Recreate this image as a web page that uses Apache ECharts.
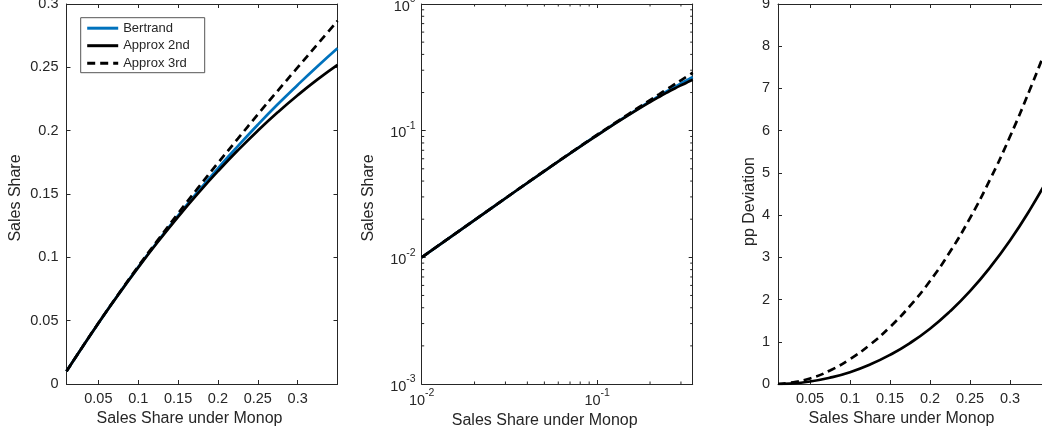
<!DOCTYPE html>
<html>
<head>
<meta charset="utf-8">
<script src="https://cdn.jsdelivr.net/npm/echarts@6/dist/echarts.min.js"></script>
<style>
  html, body { margin: 0; background: #fff; }
  #chart { width: 1042px; height: 440px; }
</style>
</head>
<body>
<div id="chart"></div>
<script>
// sales share under monopoly (x for every panel)
const monopShare = [0.01, 0.025, 0.05, 0.075, 0.1, 0.125, 0.15, 0.175, 0.2, 0.225, 0.25, 0.275, 0.3, 0.325, 0.35]
// sales share, panel 1 and 2
const bertrand = [0.0100, 0.0245, 0.0480, 0.0706, 0.0923, 0.1130, 0.1329, 0.1520, 0.1703, 0.1878, 0.2047, 0.2208, 0.2361, 0.2509, 0.2651]
const approx2nd = [0.0100, 0.0245, 0.0480, 0.0705, 0.0920, 0.1125, 0.1320, 0.1505, 0.1680, 0.1845, 0.2000, 0.2145, 0.2280, 0.2405, 0.2520]
const approx3rd = [0.0100, 0.0245, 0.0481, 0.0708, 0.0929, 0.1140, 0.1347, 0.1548, 0.1745, 0.1937, 0.2128, 0.2315, 0.2499, 0.2683, 0.2866]
// pp deviation from Bertrand, panel 3
const dev2nd = [0, 0.01, 0.06, 0.15, 0.28, 0.46, 0.69, 0.97, 1.31, 1.72, 2.20, 2.76, 3.40, 4.13, 4.95]
const dev3rd = [0, 0.03, 0.13, 0.32, 0.59, 0.93, 1.35, 1.85, 2.44, 3.13, 3.93, 4.84, 5.86, 6.98, 8.18]

const linXTicks = [0.05, 0.1, 0.15, 0.2, 0.25, 0.3]
const logMinorX = [0.02, 0.03, 0.04, 0.05, 0.06, 0.07, 0.08, 0.09, 0.2, 0.3]
const logMinorY = [0.002, 0.003, 0.004, 0.005, 0.006, 0.007, 0.008, 0.009,
  0.02, 0.03, 0.04, 0.05, 0.06, 0.07, 0.08, 0.09,
  0.2, 0.3, 0.4, 0.5, 0.6, 0.7, 0.8, 0.9]

const ink = '#262626'
const blue = '#0072bd'
const font = 'Liberation Sans, Arial, sans-serif'

const pairs = (ys) => monopShare.map((x, i) => [x, ys[i]])

const chart = echarts.init(document.getElementById('chart'))

const lineStyle = { color: ink, width: 1 }
const nameStyle = { color: ink, fontSize: 16, fontFamily: font }

function xAxis(grid, extra, mirror) {
  return Object.assign({
    gridIndex: grid,
    position: mirror ? 'top' : 'bottom',
    axisLine: { show: true, onZero: false, lineStyle },
    axisTick: { show: true, inside: true, length: 4, lineStyle },
    axisLabel: mirror ? { show: false } : { color: ink, fontSize: 14.5, fontFamily: font, margin: 7 },
    splitLine: { show: false },
    name: mirror ? '' : 'Sales Share under Monop',
    nameLocation: 'middle',
    nameGap: 26,
    nameTextStyle: Object.assign({ padding: [0, 25, 0, 0] }, nameStyle),
  }, extra)
}

function yAxis(grid, extra, mirror, name, gap, shift) {
  return Object.assign({
    gridIndex: grid,
    position: mirror ? 'right' : 'left',
    axisLine: { show: true, onZero: false, lineStyle },
    axisTick: { show: true, inside: true, length: 4, lineStyle },
    axisLabel: mirror ? { show: false } : { color: ink, fontSize: 14.5, fontFamily: font, margin: 8 },
    splitLine: { show: false },
    name: mirror ? '' : name,
    nameLocation: 'middle',
    nameGap: gap,
    nameTextStyle: Object.assign({ padding: [0, shift, 0, 0] }, nameStyle),
  }, extra)
}

const linX = (grid, mirror) => xAxis(grid, {
  type: 'value', min: 0.01, max: 0.35,
  axisTick: { show: true, inside: true, length: 4, lineStyle, customValues: linXTicks },
  axisLabel: mirror ? { show: false } : {
    color: ink, fontSize: 14.5, fontFamily: font, margin: 7,
    customValues: linXTicks, formatter: (v) => String(+v.toFixed(2)),
  },
}, mirror)

const logRich = {
  b: { fontSize: 14.5, color: ink, fontFamily: font, verticalAlign: 'bottom', lineHeight: 20 },
  s: { fontSize: 10.5, color: ink, fontFamily: font, verticalAlign: 'top', lineHeight: 11 },
}
const logFmt = (v) => '{b|10}{s|' + Math.round(Math.log10(v)) + '}'

const logX = (mirror) => xAxis(1, {
  type: 'log', logBase: 10, min: 0.01, max: 0.35,
  axisLabel: mirror ? { show: false } : {
    margin: 4, formatter: logFmt, rich: logRich, showMaxLabel: false,
  },
}, mirror)

const logY = (mirror) => yAxis(1, {
  type: 'log', logBase: 10, min: 0.001, max: 1,
  axisLabel: mirror ? { show: false } : {
    margin: 6, formatter: logFmt, rich: logRich,
  },
}, mirror, 'Sales Share', 45, 8)

// minor ticks of the log panel, on all four sides
function minorTicks(values, onX) {
  return {
    type: 'custom',
    xAxisIndex: 2,
    yAxisIndex: 2,
    silent: true,
    z: 5,
    data: values.map((v) => (onX ? [v, 0.1] : [0.1, v])),
    renderItem: (params, api) => {
      const v = api.value(onX ? 0 : 1)
      const a = onX ? api.coord([v, 0.001]) : api.coord([0.01, v])
      const b = onX ? api.coord([v, 1]) : api.coord([0.35, v])
      const len = 2.5
      const seg = (p, dx, dy) => ({
        type: 'line',
        shape: { x1: p[0], y1: p[1], x2: p[0] + dx, y2: p[1] + dy },
        style: { stroke: ink, lineWidth: 1 },
      })
      return {
        type: 'group',
        children: onX
          ? [seg(a, 0, -len), seg(b, 0, len)]
          : [seg(a, len, 0), seg(b, -len, 0)],
      }
    },
  }
}

const solid = (color) => ({ color, width: 2.7 })
const dashed = { color: '#000', width: 2.7, type: [8, 5] }

const option = {
  animation: false,
  backgroundColor: '#fff',
  textStyle: { fontFamily: font },
  grid: [
    { left: 66.5, top: 4, width: 271, height: 380, outerBoundsMode: 'none' },
    { left: 421.7, top: 4, width: 271, height: 380, outerBoundsMode: 'none' },
    { left: 778, top: 4, width: 272, height: 380, outerBoundsMode: 'none' },
  ],
  legend: {
    data: ['Bertrand', 'Approx 2nd', 'Approx 3rd'],
    orient: 'vertical',
    left: 80.7,
    top: 17.7,
    padding: [4, 15, 3, 5],
    itemWidth: 31,
    itemHeight: 13,
    itemGap: 4.5,
    backgroundColor: '#fff',
    borderColor: '#555',
    borderWidth: 1,
    borderRadius: 0,
    selectedMode: false,
    itemStyle: { opacity: 0 },
    lineStyle: { width: 3 },
    textStyle: { color: ink, fontSize: 13, fontFamily: font },
  },
  xAxis: [
    linX(0, false), linX(0, true),
    logX(false), logX(true),
    linX(2, false), linX(2, true),
  ].map((a, i) => Object.assign(a, { gridIndex: Math.floor(i / 2) })),
  yAxis: [
    yAxis(0, {
      type: 'value', min: 0, max: 0.3, interval: 0.05,
      axisLabel: { color: ink, fontSize: 14.5, fontFamily: font, margin: 8, formatter: (v) => String(+v.toFixed(2)) },
    }, false, 'Sales Share', 43, 8),
    yAxis(0, { type: 'value', min: 0, max: 0.3, interval: 0.05 }, true),
    logY(false),
    logY(true),
    yAxis(2, { type: 'value', min: 0, max: 9, interval: 1 }, false, 'pp Deviation', 20, 15),
    yAxis(2, { type: 'value', min: 0, max: 9, interval: 1 }, true),
  ],
  series: [
    { name: 'Bertrand', type: 'line', xAxisIndex: 0, yAxisIndex: 0, data: pairs(bertrand), smooth: true, symbol: 'none', lineStyle: solid(blue), itemStyle: { color: blue } },
    { name: 'Approx 2nd', type: 'line', xAxisIndex: 0, yAxisIndex: 0, data: pairs(approx2nd), smooth: true, symbol: 'none', lineStyle: solid('#000'), itemStyle: { color: '#000' } },
    { name: 'Approx 3rd', type: 'line', xAxisIndex: 0, yAxisIndex: 0, data: pairs(approx3rd), smooth: true, symbol: 'none', lineStyle: dashed, itemStyle: { color: '#000' } },

    { name: 'log Bertrand', type: 'line', xAxisIndex: 2, yAxisIndex: 2, data: pairs(bertrand), smooth: true, symbol: 'none', lineStyle: solid(blue) },
    { name: 'log Approx 2nd', type: 'line', xAxisIndex: 2, yAxisIndex: 2, data: pairs(approx2nd), smooth: true, symbol: 'none', lineStyle: solid('#000') },
    { name: 'log Approx 3rd', type: 'line', xAxisIndex: 2, yAxisIndex: 2, data: pairs(approx3rd), smooth: true, symbol: 'none', lineStyle: dashed },
    minorTicks(logMinorX, true),
    minorTicks(logMinorY, false),

    { name: 'dev 2nd', type: 'line', xAxisIndex: 4, yAxisIndex: 4, data: pairs(dev2nd), smooth: true, symbol: 'none', lineStyle: solid('#000') },
    { name: 'dev 3rd', type: 'line', xAxisIndex: 4, yAxisIndex: 4, data: pairs(dev3rd), smooth: true, symbol: 'none', lineStyle: dashed },
  ],
}

chart.setOption(option)
</script>
</body>
</html>
